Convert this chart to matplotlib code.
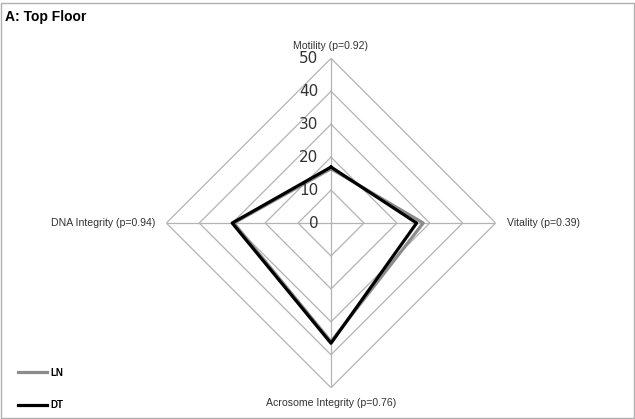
import numpy as np
import matplotlib
matplotlib.use("Agg")
import matplotlib.pyplot as plt
from matplotlib.patches import Rectangle

# dados
categorias = ["Motility (p=0.92)", "Vitality (p=0.39)",
              "Acrosome Integrity (p=0.76)", "DNA Integrity (p=0.94)"]
ln = [16.5, 28, 36, 29.5]
dt = [17, 26, 36.5, 30]
niveis = [0, 10, 20, 30, 40, 50]

plt.rcParams['font.family'] = ['Liberation Sans', 'DejaVu Sans']

fig = plt.figure(figsize=(6.35, 4.19), dpi=100)
fig.patches.append(Rectangle((0.002, 0.002), 0.996, 0.99, transform=fig.transFigure,
                             fill=False, edgecolor="#b0b0b0", lw=1.0))

ax = fig.add_axes([0.2619, 0.0747, 0.5187, 0.786], projection="polar")
ax.set_theta_offset(np.pi / 2)
ax.set_theta_direction(-1)
ax.set_ylim(0, 50)
ax.grid(False)
ax.spines['polar'].set_visible(False)
ax.set_xticks([])
ax.set_yticks([])
ax.patch.set_alpha(0)

angulos = np.arange(len(categorias)) * 2 * np.pi / len(categorias)
fechado = np.append(angulos, angulos[0])

# grade em losango
for r in niveis[1:]:
    ax.plot(fechado, [r] * len(fechado), color="#b3b3b3", lw=0.9, zorder=1)
for a in angulos:
    ax.plot([a, a], [0, 50], color="#b3b3b3", lw=0.9, zorder=1)

# séries
ax.plot(fechado, ln + [ln[0]], color="#8c8c8c", lw=2.3, zorder=3, label="LN")
ax.plot(fechado, dt + [dt[0]], color="black", lw=2.3, zorder=4, label="DT")

# rótulos radiais
for r in niveis:
    ax.annotate(str(r), xy=(0, r), xytext=(-9, 0), textcoords="offset points",
                ha="right", va="center", fontsize=11, color="#333333",
                family=["DejaVu Sans"], annotation_clip=False)

# rótulos das categorias
offs = [((0, 5.5), "center", "bottom"), ((8, 0), "left", "center"),
        ((0, -7.5), "center", "top"), ((-8, 0), "right", "center")]
for a, nome, (o, ha, va) in zip(angulos, categorias, offs):
    ax.annotate(nome, xy=(a, 50), xytext=o, textcoords="offset points",
                ha=ha, va=va, fontsize=7.6, color="#333333", annotation_clip=False)

fig.text(0.008, 0.96, "A: Top Floor", fontsize=10, fontweight="bold", va="center")

leg = fig.legend(loc="lower left", bbox_to_anchor=(0.015, 0.0), frameon=False,
                 handlelength=3.0, handletextpad=0.3, labelspacing=2.3,
                 prop={"size": 7, "weight": "bold"})

fig.savefig("out.png", dpi=100)
